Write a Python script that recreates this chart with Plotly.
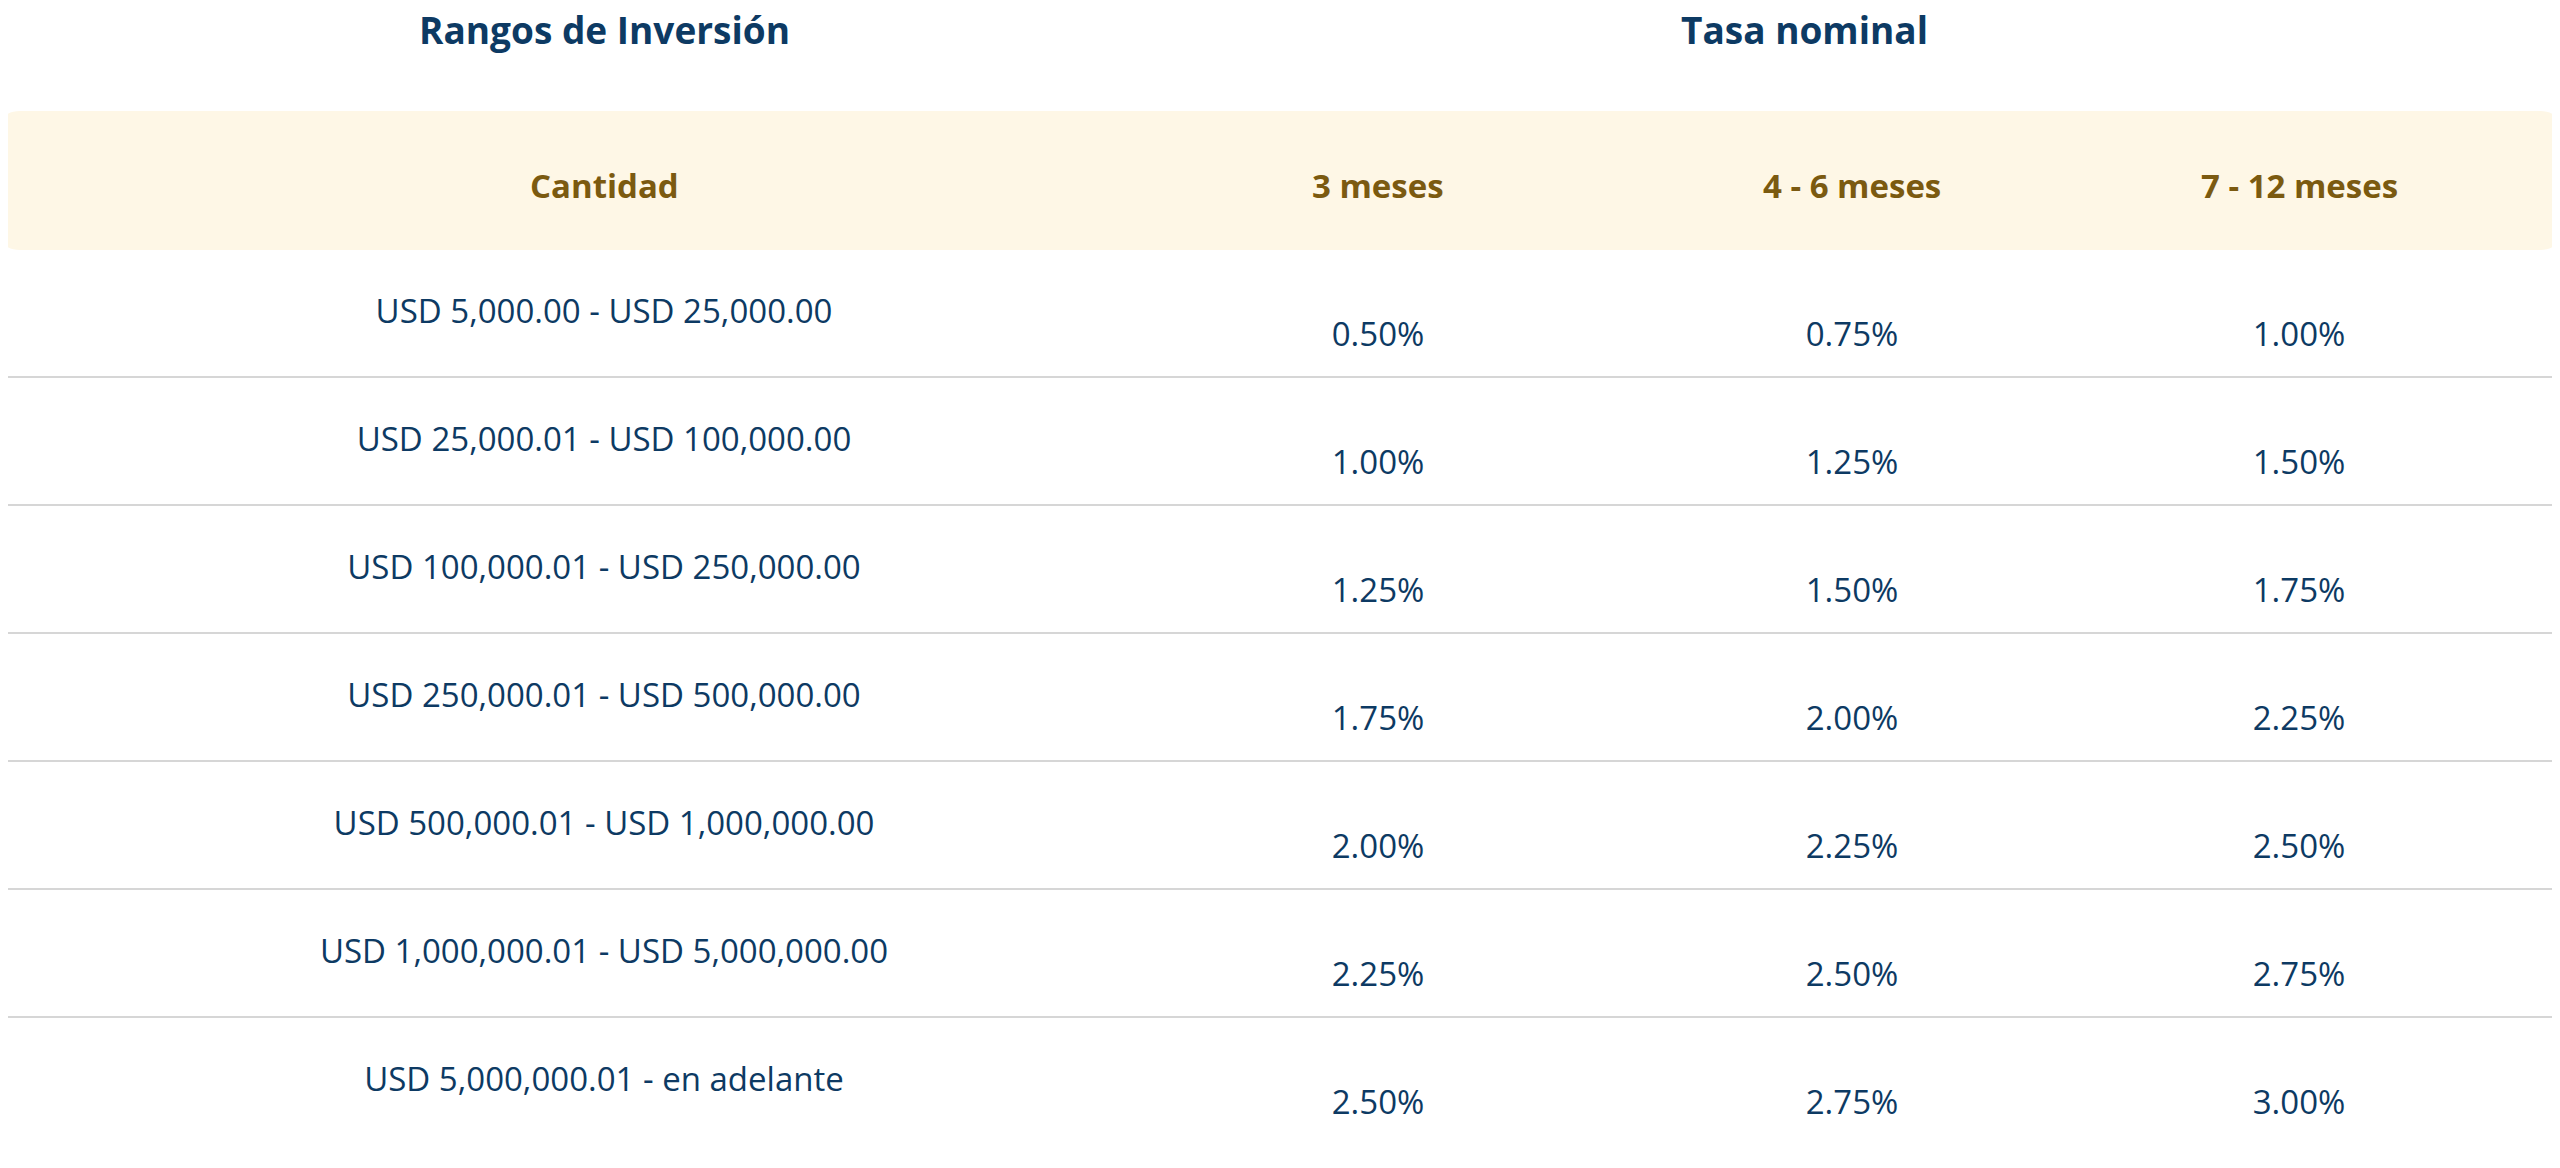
import plotly.graph_objects as go

ranges = ["USD 5,000.00 - USD 25,000.00", "USD 25,000.01 - USD 100,000.00",
          "USD 100,000.01 - USD 250,000.00", "USD 250,000.01 - USD 500,000.00",
          "USD 500,000.01 - USD 1,000,000.00", "USD 1,000,000.01 - USD 5,000,000.00",
          "USD 5,000,000.01 - en adelante"]
tasa_3 = [0.50, 1.00, 1.25, 1.75, 2.00, 2.25, 2.50]
tasa_4_6 = [0.75, 1.25, 1.50, 2.00, 2.25, 2.50, 2.75]
tasa_7_12 = [1.00, 1.50, 1.75, 2.25, 2.50, 2.75, 3.00]
headers = ["Cantidad", "3 meses", "4 - 6 meses", "7 - 12 meses"]
group_titles = ["Rangos de Inversión", "Tasa nominal"]

W, H = 2560, 1168
OFF = 8  # compensate page body margin
NAVY = "#0d3a63"
GOLD = "#7b5a10"
FONT = "Open Sans"
col_x = [604, 1378, 1852, 2299]
row0, step = 315, 128

fig = go.Figure()
rows_y = [row0 + i * step for i in range(len(ranges))]
fig.add_trace(go.Scatter(x=[col_x[0]] * len(ranges), y=rows_y, mode="text", text=ranges,
                         textfont=dict(family=FONT, size=33, color=NAVY), hoverinfo="skip"))
for cx, vals in zip(col_x[1:], [tasa_3, tasa_4_6, tasa_7_12]):
    fig.add_trace(go.Scatter(x=[cx] * len(vals), y=[y + 23 for y in rows_y], mode="text",
                             text=[f"{v:.2f}%" for v in vals],
                             textfont=dict(family=FONT, size=33, color=NAVY), hoverinfo="skip"))

fig.add_shape(type="path", path="M 0,131 Q 0,111 20,111 L 2540,111 Q 2560,111 2560,131 L 2560,230 Q 2560,250 2540,250 L 20,250 Q 0,250 0,230 Z",
              fillcolor="#fef7e6", line=dict(width=0), layer="below")
for i in range(len(ranges) - 1):
    y = row0 + 62 + i * step
    fig.add_shape(type="line", x0=0, x1=W, y0=y, y1=y, line=dict(color="#d6d6d6", width=2), layer="below")

for t, x in zip(group_titles, [604, 1804]):
    fig.add_annotation(x=x, y=29, text=f"<b>{t}</b>", showarrow=False,
                       font=dict(family=FONT, size=37, color=NAVY))
for h, x in zip(headers, col_x):
    fig.add_annotation(x=x, y=185, text=f"<b>{h}</b>", showarrow=False,
                       font=dict(family=FONT, size=33, color=GOLD))

fig.update_layout(width=W, height=H, margin=dict(l=0, r=0, t=0, b=0),
                  paper_bgcolor="white", plot_bgcolor="white", showlegend=False,
                  xaxis=dict(range=[OFF, W + OFF], visible=False, fixedrange=True),
                  yaxis=dict(range=[H + OFF, OFF], visible=False, fixedrange=True))
fig.write_html("out.html", config={"displayModeBar": False})
